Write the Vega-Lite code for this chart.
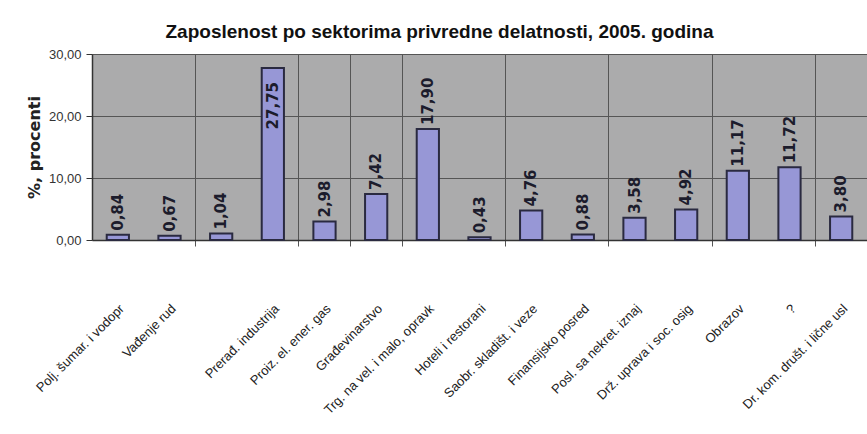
{
  "$schema": "https://vega.github.io/schema/vega-lite/v6.json",
  "width": 775,
  "height": 186,
  "autosize": "none",
  "padding": {"left": 92, "top": 54, "right": 0, "bottom": 194},
  "background": "white",
  "config": {
    "locale": {"number": {"decimal": ",", "thousands": ".", "grouping": [3], "currency": ["", ""]}},
    "view": {"stroke": null, "fill": "#ABABAC"},
    "font": "Liberation Sans"
  },
  "title": {
    "text": "Zaposlenost po sektorima privredne delatnosti, 2005. godina",
    "font": "Liberation Sans",
    "fontSize": 19,
    "fontWeight": "bold",
    "color": "#111111",
    "anchor": "middle",
    "dx": -40,
    "offset": 6
  },
  "data": {
    "values": [
      {"sektor": "Polj. šumar. i vodopr", "v": 0.84},
      {"sektor": "Vađenje rud", "v": 0.67},
      {"sektor": " ", "v": 1.04},
      {"sektor": "Prerađ. industrija", "v": 27.75},
      {"sektor": "Proiz. el. ener. gas", "v": 2.98},
      {"sektor": "Građevinarstvo", "v": 7.42},
      {"sektor": "Trg. na vel. i malo, opravk", "v": 17.90},
      {"sektor": "Hoteli i restorani", "v": 0.43},
      {"sektor": "Saobr. skladišt. i veze", "v": 4.76},
      {"sektor": "Finansijsko posred", "v": 0.88},
      {"sektor": "Posl. sa nekret. iznaj", "v": 3.58},
      {"sektor": "Drž. uprava i soc. osig", "v": 4.92},
      {"sektor": "Obrazov", "v": 11.17},
      {"sektor": "?", "v": 11.72},
      {"sektor": "Dr. kom. društ. i lične usl", "v": 3.80}
    ]
  },
  "resolve": {"axis": {"x": "independent"}},
  "layer": [
    {
      "mark": {"type": "bar", "opacity": 0},
      "encoding": {
        "x": {
          "field": "sektor", "type": "nominal", "sort": null,
          "scale": {"paddingInner": 0.57, "paddingOuter": 0.285},
          "axis": {
            "orient": "bottom",
            "values": [" ", "Proiz. el. ener. gas", "Građevinarstvo", "Trg. na vel. i malo, opravk", "Saobr. skladišt. i veze", "Posl. sa nekret. iznaj", "Obrazov", "Dr. kom. društ. i lične usl"],
            "bandPosition": 0,
            "tickOffset": -15,
            "grid": true,
            "gridColor": "#555555",
            "gridOpacity": 1,
            "labels": false,
            "ticks": true,
            "tickSize": 6,
            "tickColor": "#555555",
            "domain": false,
            "title": null
          }
        }
      }
    },
    {
      "mark": {"type": "bar", "fill": "#9797D6", "stroke": "#2a2a40", "strokeWidth": 2},
      "encoding": {
        "x": {
          "field": "sektor", "type": "nominal", "sort": null,
          "axis": {
            "orient": "bottom",
            "labelAngle": -45,
            "labelPadding": 62,
            "labelFontSize": 13,
            "labelColor": "#222222",
            "labelLimit": 300,
            "ticks": false,
            "grid": false,
            "domain": true,
            "domainColor": "#333333",
            "domainWidth": 1.5,
            "title": null
          }
        },
        "y": {
          "field": "v", "type": "quantitative",
          "scale": {"domain": [0, 30]},
          "axis": {
            "values": [0, 10, 20, 30],
            "format": ".2f",
            "grid": true,
            "gridColor": "#555555",
            "gridOpacity": 1,
            "domainColor": "#333333",
            "domainWidth": 1.5,
            "tickColor": "#333333",
            "tickSize": 6,
            "labelFontSize": 13,
            "labelColor": "#333333",
            "labelPadding": 5,
            "title": "%, procenti",
            "titleFont": "DejaVu Sans",
            "titleFontSize": 16,
            "titleFontWeight": "bold",
            "titleColor": "#222222",
            "titleX": -50,
            "titleY": 93
          }
        }
      }
    },
    {
      "transform": [{"filter": "datum.v < 25"}],
      "mark": {"type": "text", "angle": 270, "align": "left", "baseline": "middle", "dx": 4, "font": "DejaVu Sans", "fontSize": 15, "fontWeight": "bold", "color": "#1c1c2c"},
      "encoding": {
        "x": {"field": "sektor", "type": "nominal", "sort": null, "axis": null},
        "y": {"field": "v", "type": "quantitative"},
        "text": {"field": "v", "type": "quantitative", "format": ".2f"}
      }
    },
    {
      "transform": [{"filter": "datum.v >= 25"}],
      "mark": {"type": "text", "angle": 270, "align": "right", "baseline": "middle", "dx": -14, "font": "DejaVu Sans", "fontSize": 15, "fontWeight": "bold", "color": "#1c1c2c"},
      "encoding": {
        "x": {"field": "sektor", "type": "nominal", "sort": null, "axis": null},
        "y": {"field": "v", "type": "quantitative"},
        "text": {"field": "v", "type": "quantitative", "format": ".2f"}
      }
    }
  ]
}
